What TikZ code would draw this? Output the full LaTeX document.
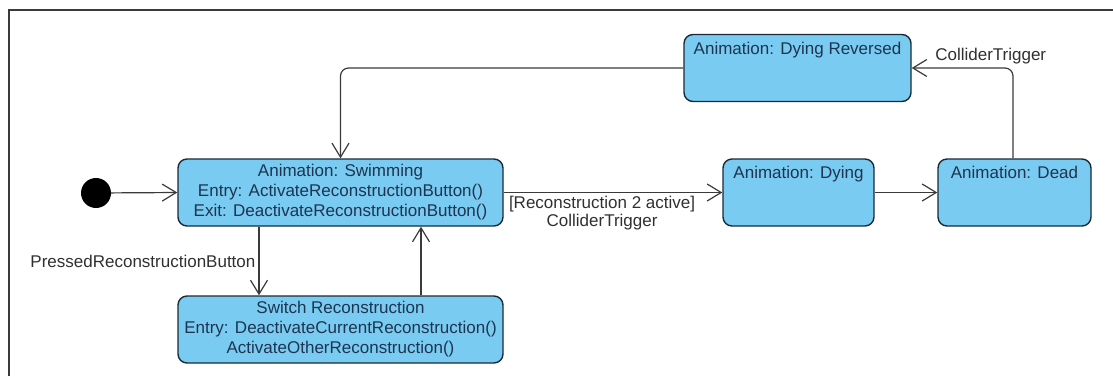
\documentclass[tikz,border=0pt]{standalone}
\usepackage{fontspec}
\setmainfont{Liberation Sans}
\usepackage{tikz}
\usetikzlibrary{positioning,arrows.meta}
\definecolor{statefill}{HTML}{79CBF1}
\definecolor{stateedge}{HTML}{1C2A38}
\definecolor{statetext}{HTML}{1E3450}
\definecolor{wiregray}{HTML}{3A3A3A}
\definecolor{lbltext}{HTML}{303030}

\begin{document}
\begin{tikzpicture}[
  x=1pt,y=-1pt,
  font=\fontsize{17}{20}\selectfont,
  state/.style={rectangle,rounded corners=9pt,draw=stateedge,line width=1.4pt,fill=statefill,text=statetext,minimum height=67pt,align=center,inner sep=2pt},
  initial/.style={circle,fill=black,minimum size=30pt,inner sep=0pt},
  trans/.style={-{Straight Barb[length=14pt,width=17pt]},line width=1.2pt,wiregray,rounded corners=8pt},
  translbl/.style={text=lbltext,inner sep=3pt},
]
\useasboundingbox (0,0) rectangle (1113,376);
% Frame (top and left edges only)
\draw[wiregray,line width=1.3pt] (9,376) -- (9,10) -- (1113,10);

% Left column: initial state, swimming, switch
\node[initial] (init) at (96,193) {};
\node[state,minimum width=325pt] (swim) at (340.5,192.5)
  {Animation: Swimming\\Entry: ActivateReconstructionButton()\\Exit: DeactivateReconstructionButton()};
\node[state,minimum width=325pt] (switch) at (340.5,329.5)
  {Switch Reconstruction\\Entry: DeactivateCurrentReconstruction()\\ActivateOtherReconstruction()};
% Right part: dying, dead, reversed
\node[state,minimum width=151pt] (dying) at (798.5,192.5) {Animation: Dying\\\mbox{}\\\mbox{}};
\node[state,minimum width=153pt] (dead) at (1014.5,192.5) {Animation: Dead\\\mbox{}\\\mbox{}};
\node[state,minimum width=227pt] (rev) at (797.5,68) {Animation: Dying Reversed\\\mbox{}\\\mbox{}};

% Transitions
\draw[trans] (init) -- (swim.west);
\draw[trans] ([xshift=-81.5pt]swim.south) -- node[translbl,left]{PressedReconstructionButton} ([xshift=-81.5pt]switch.north);
\draw[trans] ([xshift=80.5pt]switch.north) -- ([xshift=80.5pt]swim.south);
\draw[trans] (swim.east) -- node[translbl,below,pos=0.45,align=center,font=\fontsize{17}{18}\selectfont]{[Reconstruction 2 active]\\ColliderTrigger} (dying.west);
\draw[trans] (dying) -- (dead);
\draw[trans] ([xshift=-1.5pt]dead.north) |- node[translbl,above,pos=0.61]{ColliderTrigger} (rev.east);
\draw[trans] (rev.west) -| (swim.north);
\end{tikzpicture}
\end{document}
